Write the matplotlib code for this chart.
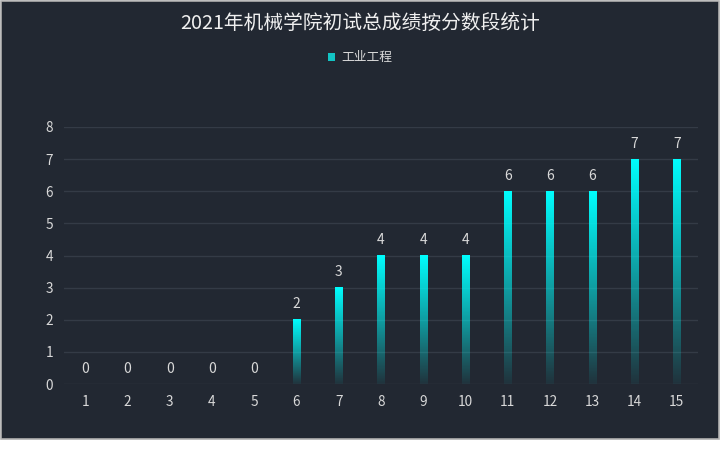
import matplotlib
matplotlib.use("Agg")
import matplotlib.pyplot as plt
import numpy as np
from matplotlib.patches import Rectangle, Patch
from matplotlib.colors import LinearSegmentedColormap

plt.rcParams['font.family'] = ['Noto Sans CJK SC', 'DejaVu Sans']

title = "2021年机械学院初试总成绩按分数段统计"
series_name = "工业工程"
categories = ["1", "2", "3", "4", "5", "6", "7", "8", "9", "10", "11", "12", "13", "14", "15"]
values = [0, 0, 0, 0, 0, 2, 3, 4, 4, 4, 6, 6, 6, 7, 7]
y_ticks = [0, 1, 2, 3, 4, 5, 6, 7, 8]

BG = '#222832'
GRID = '#343b46'
TXT = '#d9d9d9'

fig = plt.figure(figsize=(7.2, 4.49), dpi=100, facecolor='white')
# dark panel with thin gray border
fig.patches.append(Rectangle((0.5/720, 10/449), 718/720, 438.5/449, transform=fig.transFigure,
                             facecolor=BG, edgecolor='#b0b0b0', linewidth=1.2, zorder=-10))

ax = fig.add_axes([64/720, (449-384)/449, (698-64)/720, (384-127)/449])
ax.set_facecolor('none')
ax.set_zorder(1)
x = np.arange(len(categories))
bars = ax.bar(x, values, width=0.17, color='none')
ax.set_xlim(-0.5, len(categories) - 0.5)
ax.set_ylim(0, 8)

cmap = LinearSegmentedColormap.from_list('g', [(0, 1, 1, 0.05), (0, 1, 1, 0.55), (0, 1, 1, 1.0)])
grad = np.linspace(0, 1, 256).reshape(-1, 1)
for b, v in zip(bars, values):
    if v > 0:
        ax.imshow(grad, extent=[b.get_x(), b.get_x() + b.get_width(), 0, v], origin='lower',
                  cmap=cmap, aspect='auto', zorder=3, interpolation='bicubic')
ax.set_xlim(-0.5, len(categories) - 0.5)
ax.set_ylim(0, 8)

for xi, v in zip(x, values):
    ax.annotate(str(v), (xi, v), xytext=(0, 6), textcoords='offset points',
                ha='center', va='bottom', color=TXT, fontsize=10, zorder=4)

ax.set_xticks(x)
ax.set_xticklabels(categories)
ax.set_yticks(y_ticks)
ax.tick_params(axis='both', length=0, colors=TXT, labelsize=9.8)
ax.tick_params(axis='x', pad=8)
ax.tick_params(axis='y', pad=8)
ax.grid(axis='y', color=GRID, linewidth=1)
ax.set_axisbelow(True)
for s in ax.spines.values():
    s.set_visible(False)

fig.text(0.5, (449-23)/449, title, ha='center', va='center', color='#f0f0f0', fontsize=14.2)

leg = fig.legend(handles=[Patch(facecolor='#12c4c4', edgecolor='none', label=series_name)],
                 loc='center', bbox_to_anchor=(0.5, (449-58)/449), frameon=False,
                 fontsize=9.2, handlelength=0.55, handleheight=0.55, handletextpad=0.5)
for t in leg.get_texts():
    t.set_color(TXT)

fig.savefig('out.png', dpi=100, facecolor='white')
